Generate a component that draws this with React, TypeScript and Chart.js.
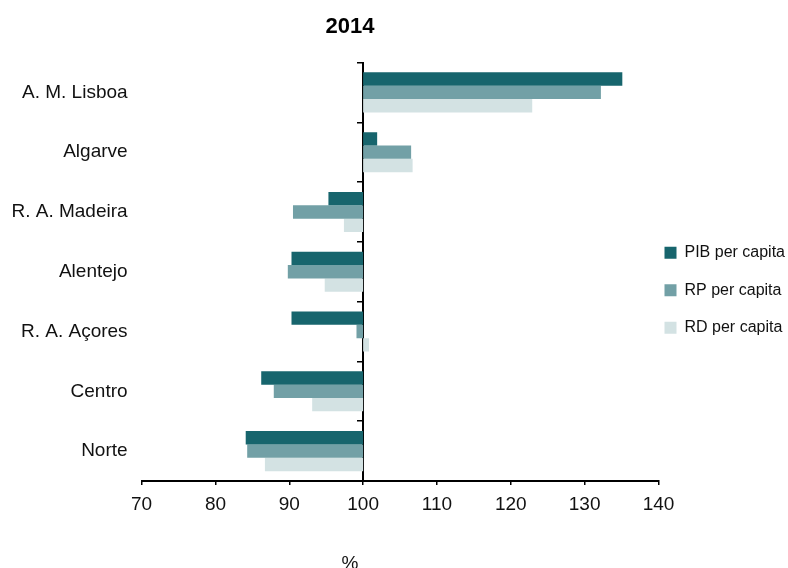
import React, { useEffect, useRef } from 'react';
import { Chart, registerables } from 'chart.js';

Chart.register(...registerables);

// Regional indices (Portugal = 100), 2014
const regions = ['A. M. Lisboa', 'Algarve', 'R. A. Madeira', 'Alentejo', 'R. A. Açores', 'Centro', 'Norte'];
const pibPerCapita = [135.1, 101.9, 95.3, 90.3, 90.3, 86.2, 84.1];
const rpPerCapita = [132.2, 106.5, 90.5, 89.8, 99.1, 87.9, 84.3];
const rdPerCapita = [122.9, 106.7, 97.4, 94.8, 100.8, 93.1, 86.7];
const seriesNames = ['PIB per capita', 'RP per capita', 'RD per capita'];
const seriesColors = ['#17656d', '#72a0a6', '#d3e2e3'];
const baseline = 100;
const xMin = 70;
const xMax = 140;
const xStep = 10;
const chartTitle = '2014';
const axisUnit = '%';

const FONT = "'Liberation Sans', Arial, sans-serif";
const W = 788;
const H = 568;
const LEGEND_PAD = 21.5;
const LEGEND_GAP = 6;
const LEGEND_RAISE = 3;

// Place the legend boxes just right of the plot area, keeping the
// legend's right edge (and so its clip box) at the canvas edge
const legendNudge = {
  id: 'legendNudge',
  afterLayout(chart: any) {
    const lg = chart.legend;
    if (!lg) return;
    lg.left = chart.chartArea.right + LEGEND_GAP - LEGEND_PAD;
    lg.right = chart.width;
    lg.width = lg.right - lg.left;
    lg.top -= LEGEND_RAISE;
    lg.bottom -= LEGEND_RAISE;
  },
};

export default function App() {
  const canvasRef = useRef<HTMLCanvasElement | null>(null);

  useEffect(() => {
    const canvas = canvasRef.current;
    if (!canvas) return;
    const floating = (vals: number[]) => vals.map((v) => [baseline, v]);
    const chart = new Chart(canvas, {
      type: 'bar',
      data: {
        labels: regions,
        datasets: [pibPerCapita, rpPerCapita, rdPerCapita].map((vals, i) => ({
          label: seriesNames[i],
          data: floating(vals) as any,
          backgroundColor: seriesColors[i],
          borderWidth: 0,
          categoryPercentage: 0.67,
          barPercentage: 1,
        })),
      },
      options: {
        indexAxis: 'y',
        responsive: false,
        animation: false,
        devicePixelRatio: 1,
        events: [],
        layout: { padding: { top: 62.5, bottom: 44.2, left: 0, right: 0 } },
        plugins: {
          tooltip: { enabled: false },
          title: { display: false },
          legend: {
            position: 'right',
            maxWidth: 129.5,
            labels: {
              boxWidth: 12,
              boxHeight: 12,
              padding: LEGEND_PAD,
              color: '#111',
              font: { family: FONT, size: 16 },
            },
          },
        },
        scales: {
          x: {
            type: 'linear',
            min: xMin,
            max: xMax,
            ticks: {
              stepSize: xStep,
              color: '#111',
              padding: 8,
              font: { family: FONT, size: 19 },
            },
            grid: {
              drawOnChartArea: false,
              drawTicks: true,
              tickLength: 4,
              lineWidth: 1.5,
              color: '#000',
            },
            border: { display: true, color: '#000', width: 2 },
          },
          y: {
            type: 'category',
            offset: true,
            ticks: {
              color: '#111',
              padding: 14,
              font: { family: FONT, size: 19 },
            },
            grid: { display: false, drawTicks: false },
            border: { display: false },
            afterFit: (s: any) => {
              s.width = 141.6;
            },
          },
          y2: {
            type: 'category',
            position: { x: baseline } as any,
            offset: true,
            ticks: { display: false },
            grid: {
              offset: true,
              drawOnChartArea: false,
              drawTicks: true,
              tickLength: 5,
              lineWidth: 1.5,
              color: '#000',
            },
            border: { display: true, color: '#000', width: 2 },
            afterFit: (s: any) => {
              s.width = 0;
            },
          },
        },
      },
      plugins: [legendNudge],
    });
    return () => chart.destroy();
  }, []);

  return (
    <div
      style={{
        position: 'absolute',
        left: 0,
        top: 0,
        width: W,
        height: H,
        overflow: 'hidden',
        background: '#fff',
      }}
    >
      <canvas ref={canvasRef} width={W} height={H} style={{ display: 'block' }} />
      <div
        style={{
          position: 'absolute',
          left: 0,
          width: 700,
          top: 15.3,
          textAlign: 'center',
          fontFamily: FONT,
          fontWeight: 'bold',
          fontSize: 22,
          lineHeight: '22px',
          color: '#000',
        }}
      >
        {chartTitle}
      </div>
      <div
        style={{
          position: 'absolute',
          left: 0,
          width: 700,
          top: 552.5,
          textAlign: 'center',
          fontFamily: FONT,
          fontSize: 19,
          lineHeight: '19px',
          color: '#111',
        }}
      >
        {axisUnit}
      </div>
    </div>
  );
}
